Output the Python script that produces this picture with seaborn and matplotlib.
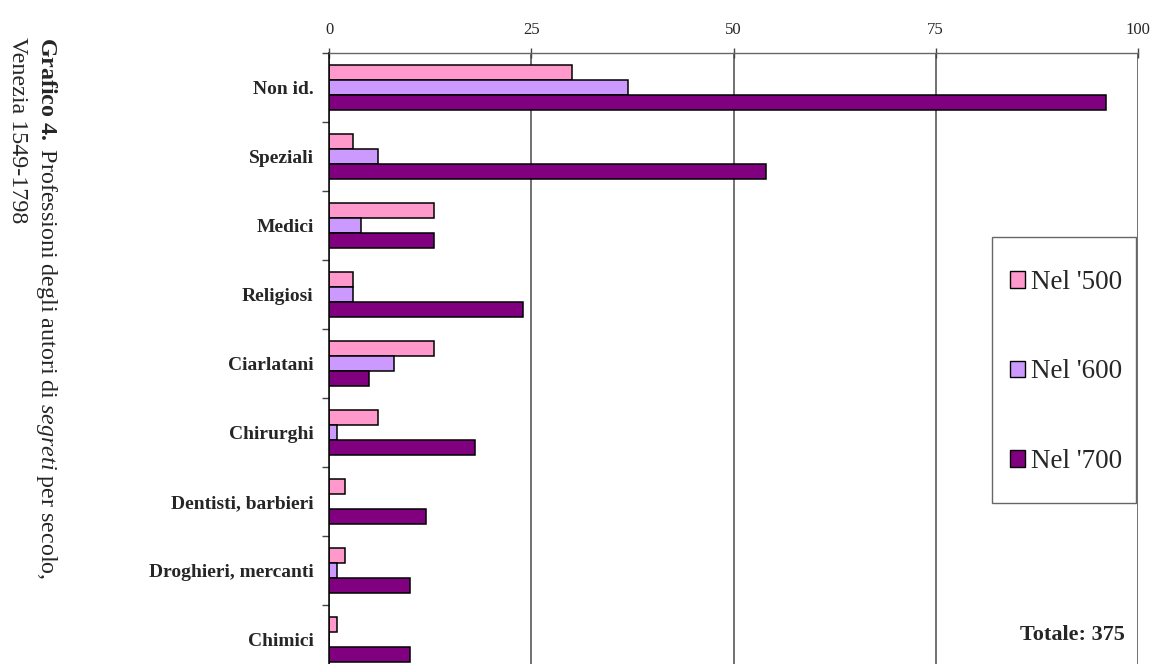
import matplotlib
matplotlib.use("Agg")
import matplotlib.pyplot as plt
import seaborn as sns
import pandas as pd
from matplotlib.patches import Rectangle

categories = ["Non id.", "Speziali", "Medici", "Religiosi", "Ciarlatani",
              "Chirurghi", "Dentisti, barbieri", "Droghieri, mercanti", "Chimici"]
nel_500 = [30, 3, 13, 3, 13, 6, 2, 2, 1]
nel_600 = [37, 6, 4, 3, 8, 1, 0, 1, 0]
nel_700 = [96, 54, 13, 24, 5, 18, 12, 10, 10]
series = ["Nel '500", "Nel '600", "Nel '700"]
colors = ["#FF99CC", "#CC99FF", "#800080"]
x_ticks = [0, 25, 50, 75, 100]
total_label = "Totale: 375"
title_line1 = r"$\mathbf{Grafico\ 4.}$ Professioni degli autori di $\mathit{segreti}$ per secolo,"
title_line2 = "Venezia 1549-1798"

rows = []
for s, vals in zip(series, [nel_500, nel_600, nel_700]):
    for c, v in zip(categories, vals):
        rows.append({"categoria": c, "valore": v, "secolo": s})
df = pd.DataFrame(rows)

sns.set_theme(style="white")
plt.rcParams['font.family'] = ['Liberation Serif', 'DejaVu Serif']
plt.rcParams['mathtext.fontset'] = 'custom'
plt.rcParams['mathtext.rm'] = 'Liberation Serif'
plt.rcParams['mathtext.it'] = 'Liberation Serif:italic'
plt.rcParams['mathtext.bf'] = 'Liberation Serif:bold'

W, H = 1152, 664
fig = plt.figure(figsize=(W / 100, H / 100), dpi=100)
fig.patch.set_facecolor("white")
ax = fig.add_axes([329 / W, 1 - 674 / H, (1138 - 329) / W, (674 - 53) / H])

sns.barplot(data=df, y="categoria", x="valore", hue="secolo", order=categories,
            hue_order=series, palette=colors, orient="h", width=0.66,
            saturation=1, edgecolor="black", linewidth=1.1, ax=ax, legend=True)

ax.set_xlim(0, 100)
ax.set_ylim(len(categories) - 0.5, -0.5)
ax.xaxis.tick_top()
ax.set_xticks(x_ticks)
ax.set_xticklabels([str(t) for t in x_ticks], fontsize=12)
ax.tick_params(axis="x", length=7, width=1, direction="inout", color="#444444", pad=7)
ax.set_xlabel("")
ax.set_ylabel("")
ax.set_axisbelow(True)
ax.grid(axis="x", color="#4a4a4a", linewidth=1.1)
ax.grid(axis="y", visible=False)

ax.set_yticks(range(len(categories)))
ax.set_yticklabels(categories, fontsize=14, fontweight="bold")
ax.tick_params(axis="y", which="major", length=0, pad=11)
ax.set_yticks([i - 0.5 for i in range(len(categories) + 1)], minor=True)
ax.tick_params(axis="y", which="minor", length=5, width=1, color="#444444", left=True)

for side in ["right", "bottom"]:
    ax.spines[side].set_visible(False)
ax.spines["left"].set_color("black")
ax.spines["left"].set_linewidth(1.1)
ax.spines["top"].set_color("#666666")
ax.spines["top"].set_linewidth(1.0)

handles, labels = ax.get_legend_handles_labels()
ax.get_legend().remove()
leg = fig.legend(handles, labels, loc="center",
                 bbox_to_anchor=(1066 / W, 1 - 372 / H),
                 frameon=False, fontsize=19.5, labelspacing=2.38,
                 handlelength=0.55, handleheight=0.55, handletextpad=0.2)
for h in leg.legend_handles:
    h.set_edgecolor("black")
    h.set_linewidth(1.0)

fig.patches.append(Rectangle((992 / W, 1 - 503 / H), (1136 - 992) / W, (503 - 237) / H,
                             transform=fig.transFigure, fill=False,
                             edgecolor="#666666", linewidth=1.0))

fig.text(1125 / W, 1 - 635 / H, total_label, ha="right", va="center",
         fontsize=16, fontweight="bold")

fig.text(46 / W, 1 - 37 / H, title_line1, rotation=-90, ha="center", va="top",
         fontsize=17.3)
fig.text(17 / W, 1 - 37 / H, title_line2, rotation=-90, ha="center", va="top",
         fontsize=17.3)

fig.savefig("out.png", dpi=100, facecolor="white")
